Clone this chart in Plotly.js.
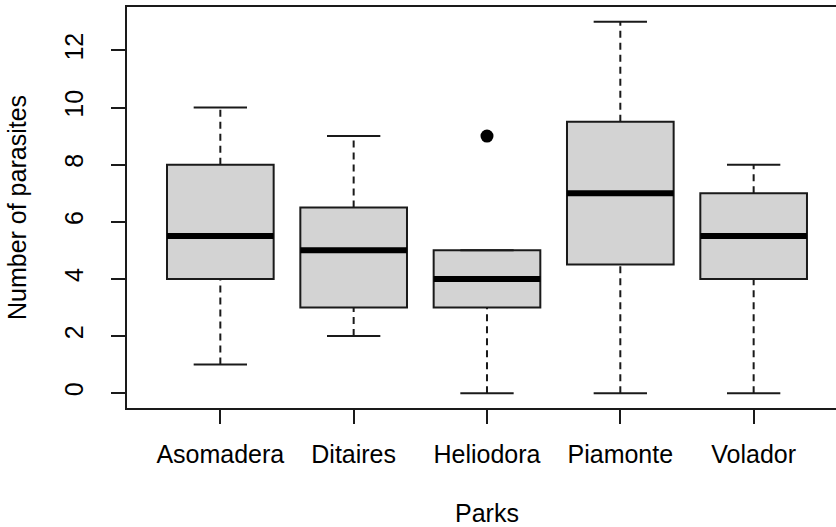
<!DOCTYPE html>
<html>
<head>
<meta charset="utf-8">
<script src="https://cdn.plot.ly/plotly-3.0.1.min.js"></script>
<style>html,body{margin:0;padding:0;background:#fff;}#chart{width:836px;height:527px;}</style>
</head>
<body>
<div id="chart"></div>
<script>
// Data
const parks = ["Asomadera", "Ditaires", "Heliodora", "Piamonte", "Volador"];
const positions = [1, 2, 3, 4, 5];
const lowerWhisker = [1, 2, 0, 0, 0];
const q1 = [4, 3, 3, 4.5, 4];
const medians = [5.5, 5, 4, 7, 5.5];
const q3 = [8, 6.5, 5, 9.5, 7];
const upperWhisker = [10, 9, 5, 13, 8];
const outlierPark = [3];
const outlierValue = [9];
const yTicks = [0, 2, 4, 6, 8, 10, 12];
const xTitle = "Parks";
const yTitle = "Number of parasites";

const boxHalf = 0.4, capHalf = 0.2;

// whiskers (dashed)
const wx = [], wy = [];
// caps (solid)
const cx = [], cy = [];
// medians
const mx = [], my = [];
positions.forEach((p, i) => {
  wx.push(p, p, null, p, p, null);
  wy.push(lowerWhisker[i], q1[i], null, q3[i], upperWhisker[i], null);
  cx.push(p - capHalf, p + capHalf, null, p - capHalf, p + capHalf, null);
  cy.push(lowerWhisker[i], lowerWhisker[i], null, upperWhisker[i], upperWhisker[i], null);
  mx.push(p - boxHalf, p + boxHalf, null);
  my.push(medians[i], medians[i], null);
});

const font = "'Liberation Sans', Arial, Helvetica, sans-serif";
const fs = 25;

const traces = [
  {
    type: "box",
    x: positions,
    q1: q1, median: medians, q3: q3,
    lowerfence: q1, upperfence: q3,
    width: 0.8,
    whiskerwidth: 0,
    boxpoints: false,
    fillcolor: "#D3D3D3",
    line: {color: "#1a1a1a", width: 2},
    hoverinfo: "skip",
    showlegend: false
  },
  {
    type: "scatter", mode: "lines", x: wx, y: wy,
    line: {color: "#1a1a1a", width: 2, dash: "7px,5px"},
    hoverinfo: "skip", showlegend: false
  },
  {
    type: "scatter", mode: "lines", x: cx, y: cy,
    line: {color: "#1a1a1a", width: 2},
    hoverinfo: "skip", showlegend: false
  },
  {
    type: "scatter", mode: "lines", x: mx, y: my,
    line: {color: "#000", width: 6},
    hoverinfo: "skip", showlegend: false
  },
  {
    type: "scatter", mode: "markers", x: outlierPark, y: outlierValue,
    marker: {color: "#000", size: 13},
    hoverinfo: "skip", showlegend: false
  }
];

const layout = {
  width: 836, height: 527,
  margin: {l: 127, r: 0, t: 7, b: 119},
  paper_bgcolor: "#fff", plot_bgcolor: "#fff",
  font: {family: font, size: fs, color: "#000"},
  showlegend: false,
  xaxis: {
    range: [0.3, 0.3 + 709 / 133.33],
    tickvals: positions, ticktext: parks,
    ticks: "outside", ticklen: 14, tickwidth: 2, tickcolor: "#1a1a1a",
    showline: true, linecolor: "#1a1a1a", linewidth: 2, mirror: true,
    showgrid: false, zeroline: false,
    ticklabelstandoff: 9,
    tickfont: {size: fs}
  },
  yaxis: {
    range: [-0.52, 13.52],
    tickvals: yTicks,
    tickangle: -90,
    ticks: "outside", ticklen: 14, tickwidth: 2, tickcolor: "#1a1a1a",
    showline: true, linecolor: "#1a1a1a", linewidth: 2, mirror: false,
    showgrid: false, zeroline: false,
    ticklabelstandoff: 18,
    tickfont: {size: fs},
    title: {text: yTitle, font: {size: fs}, standoff: 26}
  },
  annotations: [
    {
      text: xTitle, xref: "x", yref: "paper", x: 3, y: 0,
      yshift: -105, yanchor: "middle", xanchor: "center", showarrow: false,
      borderpad: 0,
      font: {size: fs, family: font, color: "#000"}
    }
  ]
};

Plotly.newPlot("chart", traces, layout, {displayModeBar: false, staticPlot: true});
</script>
</body>
</html>
